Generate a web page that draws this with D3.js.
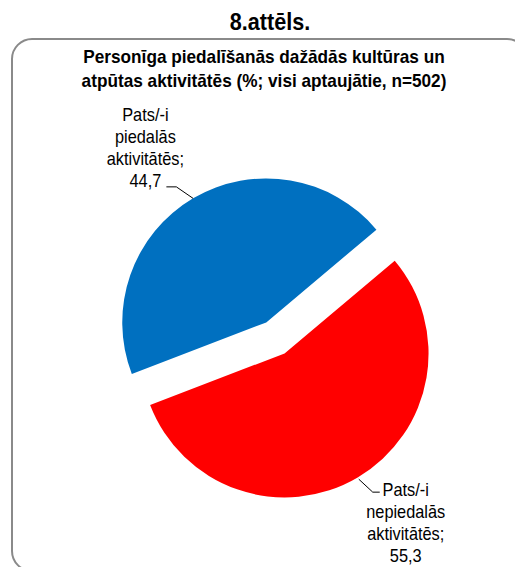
<!DOCTYPE html>
<html>
<head>
<meta charset="utf-8">
<script src="https://cdn.jsdelivr.net/npm/d3@7"></script>
<style>
  html, body { margin: 0; padding: 0; background: #fff; }
  svg { display: block; }
  text { font-family: "Liberation Sans", Arial, sans-serif; fill: #000; }
</style>
</head>
<body>
<div id="chart"></div>
<script>
// Survey shares: personal participation in cultural and leisure activities
const categories = ["Pats/-i piedalās aktivitātēs", "Pats/-i nepiedalās aktivitātēs"];
const values = [44.7, 55.3];
const colors = ["#0070C0", "#FF0000"];
const labelLines = [
  ["Pats/-i", "piedalās", "aktivitātēs;", "44,7"],
  ["Pats/-i", "nepiedalās", "aktivitātēs;", "55,3"]
];
const figureTitle = "8.attēls.";
const chartTitle = ["Personīga piedalīšanās dažādās kultūras un",
                    "atpūtas aktivitātēs (%; visi aptaujātie, n=502)"];

const W = 515, H = 567;
const svg = d3.select("#chart").append("svg").attr("width", W).attr("height", H);

// narrow the glyphs horizontally (condensed look of the typeface)
function condense(sel, factor) {
  sel.each(function () {
    const len = this.getComputedTextLength();
    d3.select(this).attr("textLength", len * factor).attr("lengthAdjust", "spacingAndGlyphs");
  });
}

// Figure caption
svg.append("text")
  .attr("x", 270).attr("y", 30)
  .attr("text-anchor", "middle")
  .style("font-size", "24px").style("font-weight", "bold")
  .text(figureTitle)
  .call(condense, 0.9);

// Rounded chart frame (runs past the right and bottom edges)
svg.append("rect")
  .attr("x", 12).attr("y", 39)
  .attr("width", 515).attr("height", 532)
  .attr("rx", 20).attr("ry", 20)
  .attr("fill", "none").attr("stroke", "#8a8a8a").attr("stroke-width", 2);

// Chart title
svg.append("g").selectAll("text").data(chartTitle).join("text")
  .attr("x", 264).attr("y", (d, i) => 62.5 + i * 24)
  .attr("text-anchor", "middle")
  .style("font-size", "18.5px").style("font-weight", "bold")
  .text(d => d)
  .call(condense, 0.93);

// Pie layout
const deg = Math.PI / 180;
const radius = 144;
const explode = 18;
const cx = 275.4, cy = 337.9;

const pie = d3.pie().sort(null).value(d => d)
  .startAngle(-111 * deg).endAngle(249 * deg);
const arcs = pie(values);
const arc = d3.arc().innerRadius(0).outerRadius(radius);

const g = svg.append("g").attr("transform", `translate(${cx},${cy})`);

// unit vector (screen coords) for a pie angle measured clockwise from 12 o'clock
const unit = a => [Math.sin(a), -Math.cos(a)];

arcs.forEach((a, i) => {
  const mid = (a.startAngle + a.endAngle) / 2;
  const [ux, uy] = unit(mid);
  const ox = ux * explode, oy = uy * explode;
  const sg = g.append("g").attr("transform", `translate(${ox},${oy})`);
  sg.append("path").attr("d", arc(a)).attr("fill", colors[i]);

  // leader line from the arc edge to the label
  const r0 = radius + (i === 0 ? 0 : 2);
  const sx = ux * r0, sy = uy * r0;
  const dir = ux < 0 ? -1 : 1;
  const ex = sx + dir * (i === 0 ? 16.7 : 14);
  const ey = sy + (i === 0 ? -11.5 : 13);
  const tx = ex + dir * (i === 0 ? 10 : 7);
  sg.append("polyline")
    .attr("points", [[sx, sy], [ex, ey], [tx, ey]].map(p => p.join(",")).join(" "))
    .attr("fill", "none").attr("stroke", "#000").attr("stroke-width", 1);

  // data label block
  const lines = labelLines[i];
  const lx = i === 0 ? tx - 21 : tx + 26;
  const firstBase = i === 0 ? ey - (lines.length - 1) * 22 : ey + 3.5;
  sg.append("g").selectAll("text").data(lines).join("text")
    .attr("x", lx).attr("y", (d, k) => firstBase + k * 22)
    .attr("text-anchor", "middle")
    .style("font-size", "19px")
    .text(d => d)
    .call(condense, 0.86);
});
</script>
</body>
</html>
